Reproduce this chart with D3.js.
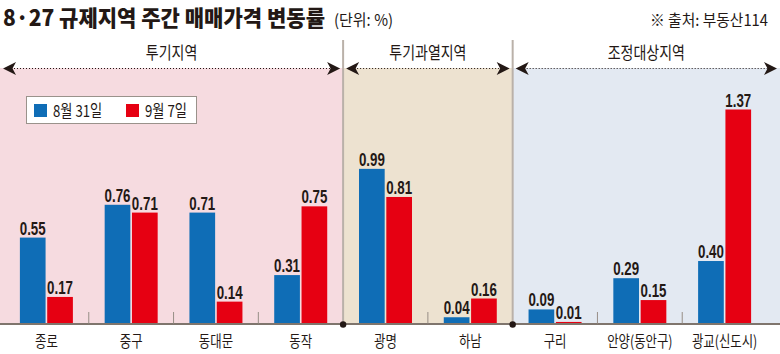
<!DOCTYPE html>
<meta charset="utf-8">
<head>
	<title>8·27 규제지역 주간 매매가격 변동률</title>
</head>

<style>
body{
	margin: 0;
	background: #fff;
}
svg{
	display: block;
}
text{
	font-family: "Noto Sans CJK KR", "Noto Sans", sans-serif;
	fill: #231815;
}
.num{
	font-family: "Liberation Sans", Arial, sans-serif;
	font-weight: bold;
}
</style>

<body>
<svg id="chart" width="780" height="354"></svg>

<script src="https://cdnjs.cloudflare.com/ajax/libs/d3/7.8.5/d3.min.js"></script>
<script>

// data
var categories = ['종로', '중구', '동대문', '동작', '광명', '하남', '구리', '안양(동안구)', '광교(신도시)'];
var seriesNames = ['8월 31일', '9월 7일'];
var aug31 = [0.55, 0.76, 0.71, 0.31, 0.99, 0.04, 0.09, 0.29, 0.40];
var sep7 = [0.17, 0.71, 0.14, 0.75, 0.81, 0.16, 0.01, 0.15, 1.37];
var regionNames = ['투기지역', '투기과열지역', '조정대상지역'];
var regionSizes = [4, 2, 3];

var W = 780, H = 354;
var baseY = 323.5;
var colors = ['#0f6db6', '#e60012'];
var regionFill = ['#f6dbe0', '#ede2d0', '#e3e9f2'];

var svg = d3.select('#chart');

var x0 = d3.scaleBand()
	.domain(categories)
	.range([4, 767]);

var x1 = d3.scaleBand()
	.domain(seriesNames)
	.range([-26.5, 26.5])
	.paddingInner(0.06);

var y = d3.scaleLinear()
	.domain([0, 1.37])
	.range([baseY, 109.5]);

// small helper: condensed text
function ctext(sel, x, yy, str, size, sx, anchor, cls){
	return sel.append('text')
		.attr('class', cls || null)
		.attr('transform', 'translate(' + x + ',' + yy + ') scale(' + sx + ',1)')
		.attr('text-anchor', anchor || 'middle')
		.style('font-size', size + 'px')
		.text(str);
}

// regions
var regions = [];
var start = 0;
regionSizes.forEach(function(n, i){
	regions.push({name: regionNames[i], first: categories[start], last: categories[start + n - 1], idx: i});
	start += n;
});
regions.forEach(function(r, i){
	r.x0 = i === 0 ? 0 : x0(r.first);
	r.x1 = i === regions.length - 1 ? W : x0(r.last) + x0.bandwidth();
});

svg.append('g').selectAll('rect')
	.data(regions)
	.enter()
	.append('rect')
	.attr('x', function(d){ return d.x0; })
	.attr('y', 68)
	.attr('width', function(d){ return d.x1 - d.x0; })
	.attr('height', baseY - 68)
	.style('fill', function(d){ return regionFill[d.idx]; });

// dividers
svg.append('g').selectAll('line')
	.data(regions.slice(1))
	.enter()
	.append('line')
	.attr('x1', function(d){ return d.x0; })
	.attr('x2', function(d){ return d.x0; })
	.attr('y1', 40)
	.attr('y2', baseY)
	.style('stroke', '#bab1a9')
	.style('stroke-width', 2);

// region titles
regions.forEach(function(r){
	ctext(svg, (r.x0 + r.x1) / 2, 58.5, r.name, 17.5, 0.8);
});

// dotted arrows
var arrowHead = 'M0,0 L13,-6.5 L9.5,0 L13,6.5 Z';
regions.forEach(function(r){
	var a = r.x0 + 3, b = r.x1 - 3;
	svg.append('line')
		.attr('x1', a + 8).attr('x2', b - 8)
		.attr('y1', 68.5).attr('y2', 68.5)
		.style('stroke', '#231815')
		.style('stroke-width', 1)
		.style('stroke-dasharray', '1,2');
	svg.append('path')
		.attr('d', arrowHead)
		.attr('transform', 'translate(' + a + ',68.5)')
		.style('fill', '#231815');
	svg.append('path')
		.attr('d', arrowHead)
		.attr('transform', 'translate(' + b + ',68.5) scale(-1,1)')
		.style('fill', '#231815');
});

// bars
var rows = categories.map(function(c, i){
	return {cat: c, vals: [aug31[i], sep7[i]]};
});

var groups = svg.append('g').selectAll('g')
	.data(rows)
	.enter()
	.append('g')
	.attr('transform', function(d){
		return 'translate(' + (x0(d.cat) + x0.bandwidth() / 2) + ',0)';
	});

groups.selectAll('rect')
	.data(function(d){
		return d.vals.map(function(v, i){ return {s: seriesNames[i], v: v, i: i}; });
	})
	.enter()
	.append('rect')
	.attr('x', function(d){ return x1(d.s); })
	.attr('y', function(d){ return y(d.v); })
	.attr('width', x1.bandwidth())
	.attr('height', function(d){ return baseY - y(d.v); })
	.style('fill', function(d){ return colors[d.i]; });

groups.each(function(d){
	var g = d3.select(this);
	d.vals.forEach(function(v, i){
		ctext(g, x1(seriesNames[i]) + x1.bandwidth() / 2, y(v) - 3, d3.format('.2f')(v), 18, 0.74, 'middle', 'num');
	});
});

// axis
svg.append('line')
	.attr('x1', 0).attr('x2', W)
	.attr('y1', baseY + 0.5).attr('y2', baseY + 0.5)
	.style('stroke', '#7f756d')
	.style('stroke-width', 2);

var bounds = categories.slice(1).map(function(c){ return x0(c); });
var regionBounds = regions.slice(1).map(function(r){ return r.x0; });

svg.append('g').selectAll('line')
	.data(bounds.filter(function(b){ return regionBounds.indexOf(b) < 0; }))
	.enter()
	.append('line')
	.attr('x1', function(d){ return d; })
	.attr('x2', function(d){ return d; })
	.attr('y1', 312)
	.attr('y2', baseY)
	.style('stroke', '#978e86')
	.style('stroke-width', 1);

svg.append('g').selectAll('circle')
	.data(regionBounds)
	.enter()
	.append('circle')
	.attr('cx', function(d){ return d; })
	.attr('cy', baseY + 1)
	.attr('r', 3.2)
	.style('fill', '#231815');

// category labels
categories.forEach(function(c){
	ctext(svg, x0(c) + x0.bandwidth() / 2, 346.5, c, 15.5, 0.8);
});

// legend
var lg = svg.append('g');
lg.append('rect')
	.attr('x', 26.5).attr('y', 96.5)
	.attr('width', 170).attr('height', 27)
	.style('fill', '#fff')
	.style('stroke', '#9a928b')
	.style('stroke-width', 1);
var legendX = [34, 126];
seriesNames.forEach(function(s, i){
	lg.append('rect')
		.attr('x', legendX[i]).attr('y', 104)
		.attr('width', 13).attr('height', 13)
		.style('fill', colors[i]);
	ctext(lg, legendX[i] + 19, 117, s, 16.5, 0.8, 'start');
});

// title
svg.append('text')
	.attr('x', 3).attr('y', 26)
	.attr('textLength', 322)
	.attr('lengthAdjust', 'spacingAndGlyphs')
	.style('font-size', '22px')
	.style('font-weight', 900)
	.text('8·27 규제지역 주간 매매가격 변동률');

svg.append('text')
	.attr('x', 334).attr('y', 26)
	.attr('textLength', 59)
	.attr('lengthAdjust', 'spacingAndGlyphs')
	.style('font-size', '16px')
	.text('(단위: %)');

svg.append('text')
	.attr('x', 650).attr('y', 26)
	.attr('textLength', 118)
	.attr('lengthAdjust', 'spacingAndGlyphs')
	.style('font-size', '15.5px')
	.text('※ 출처: 부동산114');

</script>
</body>
</html>
